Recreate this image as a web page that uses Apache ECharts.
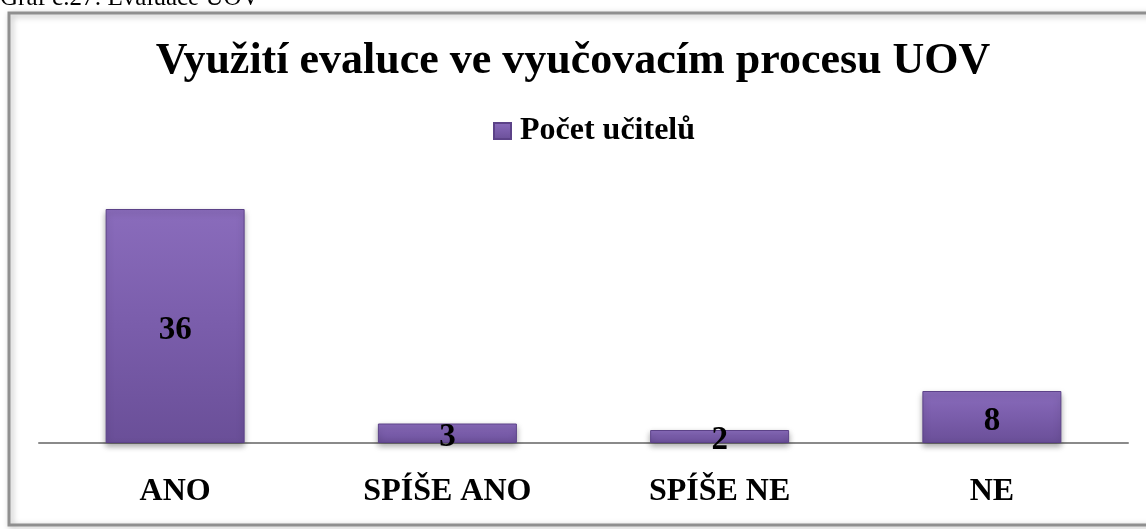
<!DOCTYPE html>
<html>
<head>
<meta charset="utf-8">
<script src="https://cdn.jsdelivr.net/npm/echarts@6/dist/echarts.min.js"></script>
<style>
  html, body { margin: 0; padding: 0; background: #fff; }
  #chart { width: 1146px; height: 529px; }
</style>
</head>
<body>
<div id="chart"></div>
<script>
// data
const categories = ['ANO', 'SPÍŠE ANO', 'SPÍŠE NE', 'NE'];
const teachers = [36, 3, 2, 8];
const seriesName = 'Počet učitelů';

const serif = '"Liberation Serif", "DejaVu Serif", serif';

const chart = echarts.init(document.getElementById('chart'));

const barFill = new echarts.graphic.LinearGradient(0, 0, 0, 1, [
  { offset: 0, color: '#8a6cbc' },
  { offset: 0.5, color: '#7a5dab' },
  { offset: 1, color: '#6a4f98' }
]);

const option = {
  animation: false,
  // caption above the frame, mostly cut off
  graphic: [
    {
      type: 'text',
      left: 0,
      top: -14,
      style: { text: 'Graf č.27: Evaluace UOV', font: '25px ' + serif, fill: '#000' }
    },
    {
      type: 'rect',
      shape: { x: 9, y: 13, width: 1150, height: 512 },
      style: {
        fill: 'none',
        stroke: '#8f8f8f',
        lineWidth: 3,
        shadowBlur: 6,
        shadowColor: 'rgba(0,0,0,0.3)',
        shadowOffsetX: 2,
        shadowOffsetY: 2
      },
      z: -1
    }
  ],
  title: {
    text: 'Využití evaluce ve vyučovacím procesu UOV',
    left: 'center',
    top: 35,
    textStyle: { fontFamily: serif, fontSize: 44, fontWeight: 'bold', color: '#000' }
  },
  legend: {
    top: 110,
    left: 488,
    itemWidth: 17,
    itemHeight: 16,
    itemGap: 4,
    data: [{ name: seriesName, icon: 'rect' }],
    textStyle: { fontFamily: serif, fontSize: 32, fontWeight: 'bold', color: '#000', padding: [0, 0, 0, 4] }
  },
  grid: {
    left: 39,
    right: 18,
    top: 183,
    bottom: 86,
    containLabel: false
  },
  xAxis: {
    type: 'category',
    data: categories,
    axisTick: { show: false },
    axisLine: { lineStyle: { color: '#8a8a8a', width: 2 } },
    axisLabel: {
      margin: 33,
      fontFamily: serif,
      fontSize: 32,
      fontWeight: 'bold',
      color: '#000'
    }
  },
  yAxis: {
    type: 'value',
    min: 0,
    max: 40,
    show: false,
    splitLine: { show: false }
  },
  series: [
    {
      name: seriesName,
      type: 'bar',
      data: teachers,
      barWidth: 139,
      itemStyle: {
        color: barFill,
        borderColor: '#5c4288',
        borderWidth: 1,
        shadowBlur: 6,
        shadowColor: 'rgba(0,0,0,0.35)',
        shadowOffsetY: 3
      },
      label: {
        show: true,
        position: 'inside',
        offset: [0, 4],
        fontFamily: serif,
        fontSize: 33,
        fontWeight: 'bold',
        color: '#000'
      }
    }
  ]
};

chart.setOption(option);
</script>
</body>
</html>
